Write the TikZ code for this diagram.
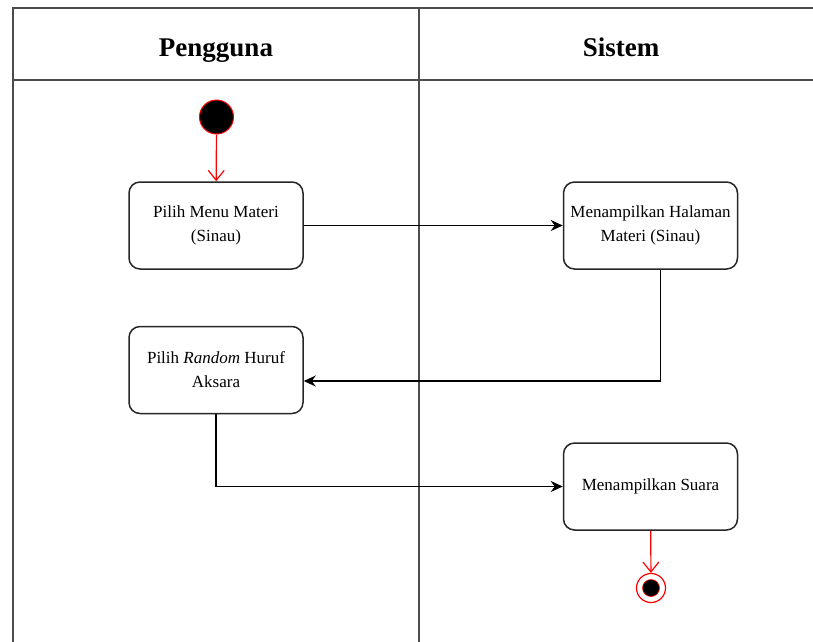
\documentclass[tikz,border=0pt]{standalone}
\usepackage{fontspec}
\setmainfont{Liberation Serif}
\usetikzlibrary{arrows.meta,calc}
\begin{document}
\begin{tikzpicture}[x=1pt,y=-1pt,
  lane/.style={draw=black!70, line width=1.6pt},
  act/.style={draw=black!85, line width=1.5pt, rounded corners=11pt,
    minimum width=174pt, minimum height=87pt, align=center,
    font=\fontsize{17}{24}\selectfont, inner sep=0pt},
  flow/.style={draw=black, line width=1.3pt, -{Stealth[length=12pt,width=11pt]}},
  redflow/.style={draw=red, line width=1.2pt, -{Straight Barb[length=10pt,width=16pt]}},
  hdr/.style={font=\fontsize{27}{30}\selectfont\bfseries, anchor=base, inner sep=0pt}]
\useasboundingbox (0,0) rectangle (813,641);
% swimlane frame
\begin{scope}
  \clip (0,0) rectangle (813,641);
  \draw[lane] (13,650) -- (13,8) -- (830,8);
  \draw[lane] (13,80) -- (830,80);
  \draw[lane] (419,8) -- (419,650);
\end{scope}
% lane headers
\node[hdr] (pengguna) at (216,56) {Pengguna};
\node[hdr] (sistem) at (621,56) {Sistem};
% initial and final states
\node[circle, fill=black, draw=red, line width=1pt, minimum size=34pt, inner sep=0pt] (start) at (216.5,117) {};
\node[circle, fill=white, draw=red, line width=1.2pt, minimum size=29pt, inner sep=0pt] (end) at (651,588) {};
\node[circle, fill=black, draw=red, line width=0.6pt, minimum size=17pt, inner sep=0pt] (endcore) at (end) {};
% activities
\node[act] (b1) at (216,225.5) {Pilih Menu Materi\\(Sinau)};
\node[act] (b2) at (650.5,225.5) {Menampilkan Halaman\\Materi (Sinau)};
\node[act] (b3) at (216,370) {Pilih \textit{Random} Huruf\\Aksara};
\node[act] (b4) at (650.5,486.5) {Menampilkan Suara};
% control flow
\coordinate (k1) at ($(b2.south)+(10,0)$);
\coordinate (k2) at ($(b3.east)+(0,11)$);
\draw[redflow] (start) -- (b1);
\draw[flow] (b1) -- (b2);
\draw[flow] (k1) |- (k2);
\draw[flow] (b3) |- (b4);
\draw[redflow] (b4) -- (end);
\end{tikzpicture}
\end{document}
